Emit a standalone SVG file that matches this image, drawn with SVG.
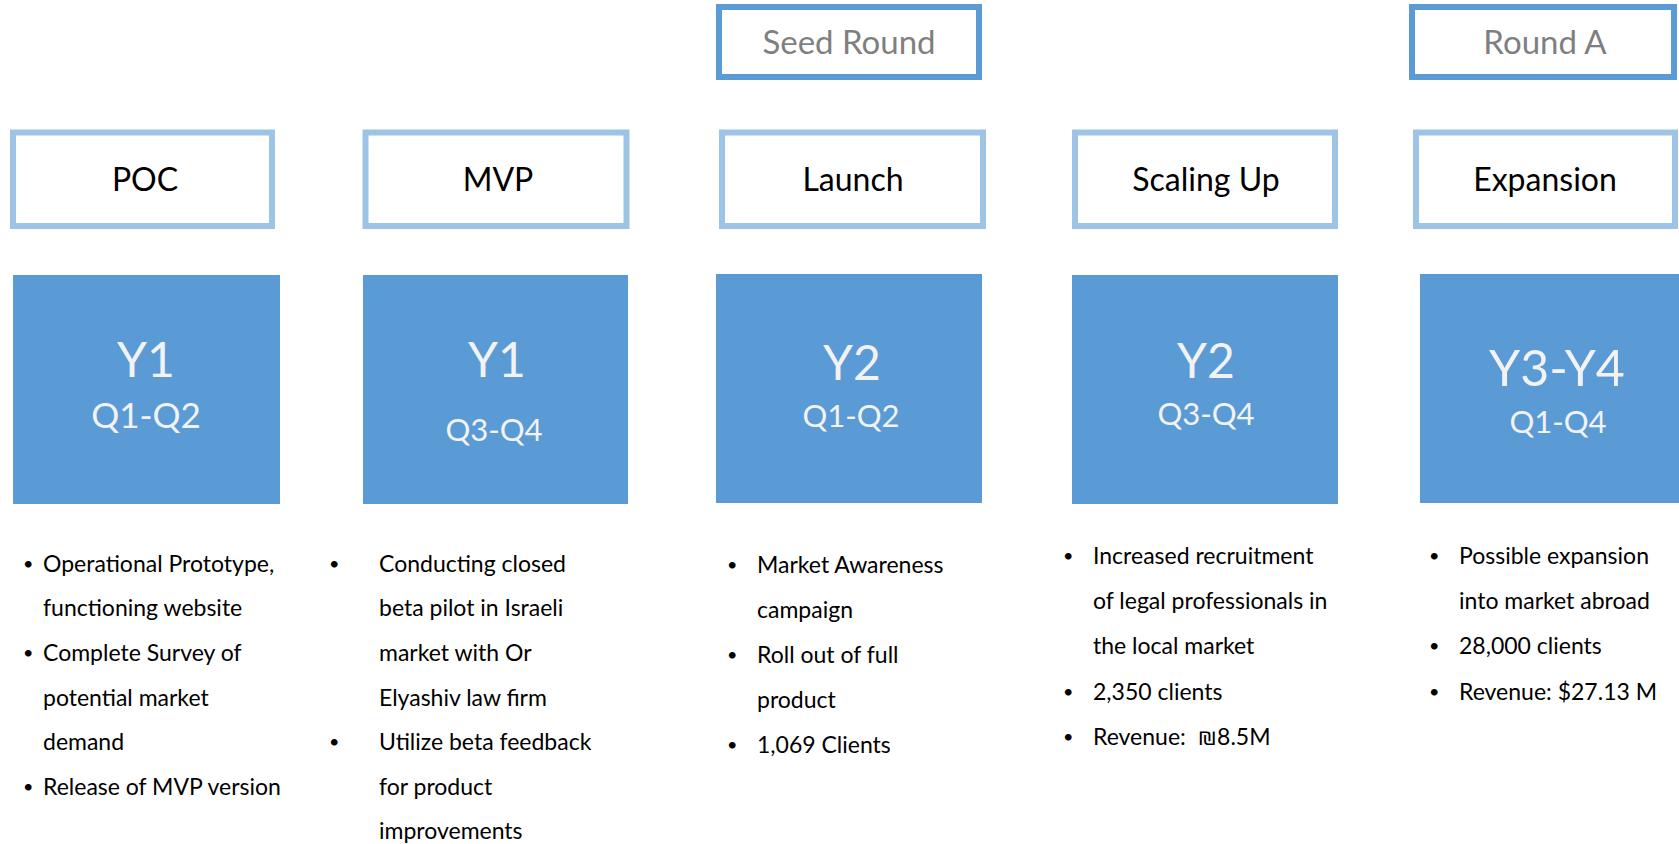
<svg xmlns="http://www.w3.org/2000/svg" width="1679" height="844" viewBox="0 0 1679 844">
<style>
.round{fill:#fff;stroke:#5B9BD5;stroke-width:6}
.round-t{font-family:Lato,"Open Sans",sans-serif;font-size:33px;fill:#7F7F7F;text-anchor:middle}
.hdr{fill:#fff;stroke:#9DC3E6;stroke-width:6}
.hdr-t{font-family:Lato,"Open Sans",sans-serif;font-size:32px;fill:#000;text-anchor:middle}
.sq{fill:#5B9BD5}
.yr{font-family:Lato,"Open Sans",sans-serif;font-size:48px;fill:#F2F2F2;text-anchor:middle}
.q{font-family:Lato,"Open Sans",sans-serif;font-size:31px;fill:#F2F2F2;text-anchor:middle}
.b{font-family:Lato,"Open Sans","DejaVu Sans",sans-serif;font-size:23px;fill:#000}
.dot{font-family:Lato,"Open Sans",sans-serif;font-size:18px;fill:#000}
</style>
<rect width="1679" height="844" fill="#fff"/>
<g id="seed-round"><rect class="round" x="719" y="7" width="260" height="70"/><text class="round-t" x="849" y="54">Seed Round</text></g>
<g id="round-a"><rect class="round" x="1412" y="7" width="262" height="70"/><text class="round-t" x="1545" y="54">Round A</text></g>

<g id="poc"><rect class="hdr" x="13" y="132.5" width="259" height="93.5"/><text class="hdr-t" x="145" y="191">POC</text></g>
<g id="mvp"><rect class="hdr" x="365.5" y="132.5" width="261" height="93.5"/><text class="hdr-t" x="498" y="191">MVP</text></g>
<g id="launch"><rect class="hdr" x="722" y="132.5" width="261" height="93.5"/><text class="hdr-t" x="853" y="191">Launch</text></g>
<g id="scaling-up"><rect class="hdr" x="1075" y="132.5" width="260" height="93.5"/><text class="hdr-t" x="1206" y="191">Scaling Up</text></g>
<g id="expansion"><rect class="hdr" x="1416" y="132.5" width="259" height="93.5"/><text class="hdr-t" x="1545" y="191">Expansion</text></g>

<g id="y1-q1q2"><rect class="sq" x="13" y="275" width="267" height="229"/><text class="yr" x="146" y="377">Y1</text><text class="q" x="146" y="428" style="font-size:35px">Q1-Q2</text></g>
<g id="y1-q3q4"><rect class="sq" x="363" y="275" width="265" height="229"/><text class="yr" x="497" y="377">Y1</text><text class="q" x="494" y="441">Q3-Q4</text></g>
<g id="y2-q1q2"><rect class="sq" x="716" y="274" width="266" height="229"/><text class="yr" x="852" y="380">Y2</text><text class="q" x="851" y="427">Q1-Q2</text></g>
<g id="y2-q3q4"><rect class="sq" x="1072" y="275" width="266" height="229"/><text class="yr" x="1206" y="378">Y2</text><text class="q" x="1206" y="425">Q3-Q4</text></g>
<g id="y3y4-q1q4"><rect class="sq" x="1420" y="274" width="259" height="229"/><text class="yr" x="1557" y="386" style="font-size:50px">Y3-Y4</text><text class="q" x="1558" y="433">Q1-Q4</text></g>

<g id="poc-bullets" class="b">
<text class="dot" x="23" y="570">•</text><text x="43" y="572">Operational Prototype,</text>
<text x="43" y="616">functioning website</text>
<text class="dot" x="23" y="659">•</text><text x="43" y="661">Complete Survey of</text>
<text x="43" y="706">potential market</text>
<text x="43" y="750">demand</text>
<text class="dot" x="23" y="793">•</text><text x="43" y="795">Release of MVP version</text>
</g>
<g id="mvp-bullets" class="b">
<text class="dot" x="329" y="570">•</text><text x="379" y="572">Conducting closed</text>
<text x="379" y="616">beta pilot in Israeli</text>
<text x="379" y="661">market with Or</text>
<text x="379" y="706">Elyashiv law firm</text>
<text class="dot" x="329" y="748">•</text><text x="379" y="750">Utilize beta feedback</text>
<text x="379" y="795">for product</text>
<text x="379" y="839">improvements</text>
</g>
<g id="launch-bullets" class="b">
<text class="dot" x="727" y="571">•</text><text x="757" y="573">Market Awareness</text>
<text x="757" y="618">campaign</text>
<text class="dot" x="727" y="661">•</text><text x="757" y="663">Roll out of full</text>
<text x="757" y="708">product</text>
<text class="dot" x="727" y="751">•</text><text x="757" y="753">1,069 Clients</text>
</g>
<g id="scaling-bullets" class="b">
<text class="dot" x="1063" y="562">•</text><text x="1093" y="564">Increased recruitment</text>
<text x="1093" y="609">of legal professionals in</text>
<text x="1093" y="654">the local market</text>
<text class="dot" x="1063" y="698">•</text><text x="1093" y="700">2,350 clients</text>
<text class="dot" x="1063" y="743">•</text><text x="1093" y="745">Revenue:&#160;&#160;₪8.5M</text>
</g>
<g id="expansion-bullets" class="b">
<text class="dot" x="1429" y="562">•</text><text x="1459" y="564">Possible expansion</text>
<text x="1459" y="609">into market abroad</text>
<text class="dot" x="1429" y="652">•</text><text x="1459" y="654">28,000 clients</text>
<text class="dot" x="1429" y="698">•</text><text x="1459" y="700">Revenue: $27.13 M</text>
</g>
<g id="connectors"></g>
</svg>
